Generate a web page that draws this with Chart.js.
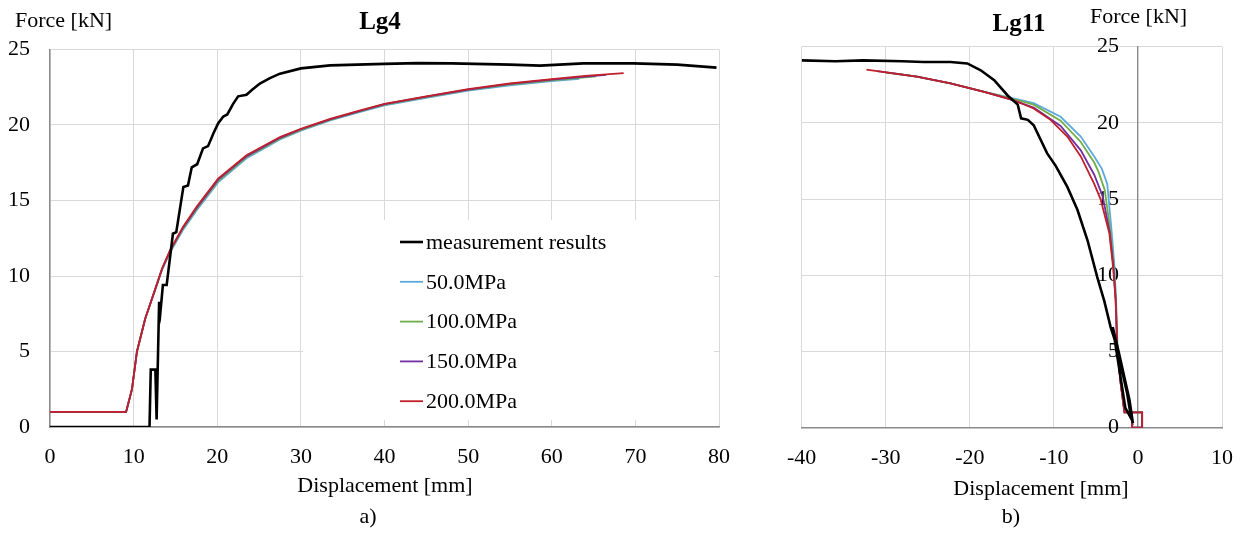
<!DOCTYPE html>
<html>
<head>
<meta charset="utf-8">
<script src="https://cdn.jsdelivr.net/npm/chart.js@4.4.1/dist/chart.umd.min.js"></script>
<style>
  html, body { margin: 0; padding: 0; background: #fff; }
  #wrap { position: relative; width: 1244px; height: 533px; overflow: hidden; }
  #left { position: absolute; left: 0; top: 0; width: 770px; height: 533px; }
  #right { position: absolute; left: 770px; top: 0; width: 474px; height: 533px; }
</style>
</head>
<body>
<div id="wrap">
  <div id="left"><canvas id="c1" width="770" height="533"></canvas></div>
  <div id="right"><canvas id="c2" width="474" height="533"></canvas></div>
</div>
<script>
// Series labels and colours
const seriesLabels = ['measurement results', '50.0MPa', '100.0MPa', '150.0MPa', '200.0MPa'];
const seriesColors = ['#000000', '#5fa8dc', '#70ad47', '#7030a0', '#c0202a'];

// Tick labels
const lg4XTicks = [0, 10, 20, 30, 40, 50, 60, 70, 80];
const lg11XTicks = [-40, -30, -20, -10, 0, 10];
const forceTicks = [0, 5, 10, 15, 20, 25];

// ---- Lg4 (a) ----
const lg4MeasX = [0, 11.9, 12.05, 12.6, 12.75, 13.05, 13.2, 13.5, 13.95, 14.7, 15.1, 15.95, 16.5, 16.95, 17.6, 18.3, 18.9, 19.55, 20.1, 20.7, 21.2, 21.9, 22.5, 23.5, 24.1, 25.1, 26.3, 27.5, 30, 33.5, 40, 44, 48, 55, 58.6, 63.8, 69.8, 75, 79.7];
const lg4MeasY = [0, 0, 3.8, 3.8, 0.5, 8.3, 7.6, 9.4, 9.4, 12.8, 12.9, 15.9, 16.0, 17.2, 17.4, 18.45, 18.6, 19.45, 20.1, 20.55, 20.7, 21.4, 21.9, 22.0, 22.3, 22.75, 23.1, 23.4, 23.75, 23.95, 24.05, 24.1, 24.08, 24.0, 23.93, 24.08, 24.08, 24.0, 23.8];

const lg4X50 = [0, 9.1, 9.8, 10.4, 11.4, 12.56, 13.4, 14.35, 15.9, 17.55, 20.1, 23.5, 27.5, 30, 33.5, 37, 40, 45, 50, 55, 60, 63.3];
const lg4Y50 = [1.0, 1.0, 2.5, 5.0, 7.2, 9.05, 10.4, 11.55, 13.05, 14.35, 16.2, 17.8, 19.05, 19.62, 20.3, 20.85, 21.3, 21.8, 22.27, 22.63, 22.9, 23.05];

const lg4X100 = [0, 9.1, 9.8, 10.4, 11.4, 12.56, 13.4, 14.35, 15.9, 17.55, 20.1, 23.5, 27.5, 30, 33.5, 37, 40, 45, 50, 55, 60, 65.3];
const lg4Y100 = [1.0, 1.0, 2.5, 5.0, 7.2, 9.08, 10.45, 11.62, 13.15, 14.45, 16.3, 17.88, 19.1, 19.68, 20.34, 20.9, 21.35, 21.85, 22.32, 22.68, 22.96, 23.22];

const lg4X150 = [0, 9.1, 9.8, 10.4, 11.4, 12.56, 13.4, 14.35, 15.9, 17.55, 20.1, 23.5, 27.5, 30, 33.5, 37, 40, 45, 50, 55, 60, 66.5];
const lg4Y150 = [1.0, 1.0, 2.5, 5.0, 7.2, 9.09, 10.48, 11.66, 13.2, 14.52, 16.38, 17.94, 19.15, 19.72, 20.37, 20.92, 21.38, 21.88, 22.35, 22.72, 23.0, 23.32];

const lg4X200 = [0, 9.1, 9.8, 10.4, 11.4, 12.56, 13.4, 14.35, 15.9, 17.55, 20.1, 23.5, 27.5, 30, 33.5, 37, 40, 45, 50, 55, 60, 64, 68.6];
const lg4Y200 = [1.0, 1.0, 2.5, 5.0, 7.2, 9.1, 10.5, 11.7, 13.25, 14.6, 16.45, 18.0, 19.2, 19.75, 20.4, 20.95, 21.4, 21.9, 22.38, 22.75, 23.04, 23.25, 23.44];

// ---- Lg11 (b) ----
const lg11MeasX = [-0.6, -1.0, -2.3, -3.0, -1.5, -0.8, -1.3, -2.6, -3.25, -4.0, -4.85, -6.0, -7.2, -8.4, -9.8, -10.8, -12.4, -13.1, -13.9, -14.3, -15.5, -17.1, -18.7, -20.3, -22.3, -25.5, -28, -32.7, -36, -40];
const lg11MeasY = [0.3, 1.8, 5.0, 6.6, 1.3, 0.6, 2.3, 5.5, 6.6, 8.3, 9.9, 12.3, 14.3, 15.8, 17.2, 18.0, 19.85, 20.2, 20.3, 21.2, 21.8, 22.8, 23.45, 23.9, 24.0, 24.0, 24.05, 24.1, 24.05, 24.1];

const lg11X50 = [-0.7, -0.7, 0.5, 0.5, -1.6, -2.04, -2.42, -2.6, -2.82, -3.15, -3.65, -4.3, -5.2, -6.8, -9.2, -12.4, -15.6, -18.4, -22.3, -26.3, -29.0];
const lg11Y50 = [1.0, 0, 0, 1.0, 1.0, 2.9, 5.1, 8.4, 10.8, 13.0, 16.0, 17.0, 17.8, 19.1, 20.4, 21.3, 21.7, 22.05, 22.6, 23.03, 23.25];

const lg11X100 = [-0.7, -0.7, 0.5, 0.5, -1.6, -2.05, -2.44, -2.63, -2.88, -3.28, -3.95, -4.7, -5.2, -6.8, -9.2, -12.4, -15.4, -18.4, -22.3, -26.3, -30.0];
const lg11Y100 = [1.0, 0, 0, 1.0, 1.0, 2.9, 5.1, 8.4, 10.7, 12.9, 15.6, 16.8, 17.4, 18.75, 20.15, 21.2, 21.65, 22.05, 22.6, 23.03, 23.3];

const lg11X150 = [-0.7, -0.7, 0.5, 0.5, -1.6, -2.05, -2.45, -2.65, -2.92, -3.35, -4.2, -5.2, -6.8, -9.2, -12.4, -15.2, -18.4, -22.3, -26.3, -31.0];
const lg11Y150 = [1.0, 0, 0, 1.0, 1.0, 2.9, 5.1, 8.4, 10.6, 12.8, 15.2, 16.6, 18.2, 19.8, 21.0, 21.55, 22.05, 22.6, 23.03, 23.4];

const lg11X200 = [-0.7, -0.7, 0.5, 0.5, -1.6, -2.06, -2.46, -2.66, -2.95, -3.4, -4.45, -5.2, -6.8, -8.4, -10.4, -12.4, -14.8, -18.4, -22.3, -26.3, -32.3];
const lg11Y200 = [1.0, 0, 0, 1.0, 1.0, 2.9, 5.1, 8.4, 10.5, 12.75, 15.0, 16.0, 17.8, 19.1, 20.2, 20.95, 21.5, 22.05, 22.6, 23.03, 23.5];

const FONT = "'Liberation Serif', 'Times New Roman', serif";
Chart.defaults.font.family = FONT;
Chart.defaults.font.size = 22;
Chart.defaults.color = '#000';

function toPoints(xs, ys) {
    return xs.map((x, i) => ({ x: x, y: ys[i] }));
}

function makeDatasets(series) {
    // draw order: black on top, then red, purple, green, blue
    const orders = [0, 4, 3, 2, 1];
    return series.map((s, i) => ({
        label: seriesLabels[i],
        data: toPoints(s[0], s[1]),
        showLine: true,
        borderColor: seriesColors[i],
        borderWidth: i === 0 ? 2.6 : 1.8,
        pointRadius: 0,
        tension: 0,
        fill: false,
        order: orders[i]
    }));
}

// Text (titles, axis names, sub-caption) drawn on the canvas
const textPlugin = {
    id: 'freeTexts',
    beforeDatasetsDraw(chart, args, opts) {
        // force tick labels beside an axis that crosses at x = 0
        if (!opts.crossLabels) return;
        const ctx = chart.ctx;
        const xs = chart.scales.x, ys = chart.scales.y;
        const ax = xs.getPixelForValue(0);
        ctx.save();
        ctx.fillStyle = '#000';
        ctx.font = '22px ' + FONT;
        ctx.textAlign = 'right';
        ctx.textBaseline = 'middle';
        forceTicks.forEach(v => {
            ctx.fillText(String(v), ax - opts.crossLabels, ys.getPixelForValue(v));
        });
        ctx.restore();
    },
    afterDraw(chart, args, opts) {
        const ctx = chart.ctx;
        ctx.save();
        ctx.fillStyle = '#000';
        ctx.textBaseline = 'alphabetic';
        (opts.items || []).forEach(t => {
            ctx.font = (t.bold ? 'bold ' : '') + t.size + 'px ' + FONT;
            ctx.textAlign = t.align;
            ctx.fillText(t.text, t.x, t.y);
        });
        ctx.restore();
    }
};

// Legend inside the plot with a white box
const boxLegendPlugin = {
    id: 'boxLegend',
    beforeDatasetsDraw(chart, args, opts) {
        if (!opts.display) return;
        const ctx = chart.ctx;
        ctx.save();
        ctx.fillStyle = '#fff';
        ctx.fillRect(opts.left, opts.top, opts.width, opts.height);
        ctx.font = '22px ' + FONT;
        ctx.textAlign = 'left';
        ctx.textBaseline = 'middle';
        chart.data.datasets.forEach((ds, i) => {
            const y = opts.firstRow + i * opts.rowGap;
            ctx.strokeStyle = ds.borderColor;
            ctx.lineWidth = i === 0 ? 2.6 : 1.8;
            ctx.beginPath();
            ctx.moveTo(opts.swatchX, y);
            ctx.lineTo(opts.swatchX + opts.swatchW, y);
            ctx.stroke();
            ctx.fillStyle = '#000';
            ctx.fillText(ds.label, opts.swatchX + opts.swatchW + 3, y + 1);
        });
        ctx.restore();
    }
};

function baseOptions(xTicks, padding, xHeight) {
    return {
        responsive: false,
        animation: false,
        events: [],
        layout: { padding: padding },
        plugins: {
            legend: { display: false },
            tooltip: { enabled: false },
            title: { display: false }
        },
        scales: {
            x: {
                type: 'linear',
                min: xTicks[0],
                max: xTicks[xTicks.length - 1],
                afterBuildTicks: s => { s.ticks = xTicks.map(v => ({ value: v })); },
                afterFit: s => {
                    s.height = xHeight;
                    // let the layout padding alone decide the plot edges
                    s.paddingLeft = 0;
                    s.paddingRight = 0;
                },
                ticks: { padding: 17, maxRotation: 0, autoSkip: false },
                grid: { color: '#d9d9d9', lineWidth: 1, drawTicks: false },
                border: { color: '#8a8a8a', width: 1.6 }
            },
            y: {
                type: 'linear',
                min: 0,
                max: 25,
                afterBuildTicks: s => { s.ticks = forceTicks.map(v => ({ value: v })); },
                ticks: { padding: 20 },
                grid: { color: '#d9d9d9', lineWidth: 1, drawTicks: false },
                border: { color: '#8a8a8a', width: 1.4 }
            }
        }
    };
}

// Chart a) Lg4
const opts1 = baseOptions(lg4XTicks, { left: 0, top: 49.5, right: 51, bottom: 0 }, 106);
opts1.scales.y.afterFit = s => { s.width = 50; };
opts1.plugins.freeTexts = {
    items: [
        { text: 'Force [kN]', x: 15, y: 27, size: 22, align: 'left' },
        { text: 'Lg4', x: 380, y: 29, size: 25, bold: true, align: 'center' },
        { text: 'Displacement [mm]', x: 385, y: 492, size: 22, align: 'center' },
        { text: 'a)', x: 368, y: 523, size: 22, align: 'center' }
    ]
};
opts1.plugins.boxLegend = {
    display: true, left: 303, top: 220, width: 411, height: 200,
    firstRow: 242, rowGap: 39.8, swatchX: 400, swatchW: 23
};

new Chart(document.getElementById('c1'), {
    type: 'scatter',
    data: {
        datasets: makeDatasets([
            [lg4MeasX, lg4MeasY], [lg4X50, lg4Y50], [lg4X100, lg4Y100],
            [lg4X150, lg4Y150], [lg4X200, lg4Y200]
        ])
    },
    options: opts1,
    plugins: [textPlugin, boxLegendPlugin]
});

// Chart b) Lg11 - force axis crosses at displacement 0
const opts2 = baseOptions(lg11XTicks, { left: 31.7, top: 46.7, right: 22, bottom: 0 }, 105.3);
opts2.scales.y.position = { x: 0 };
opts2.scales.y.ticks = { display: false };
opts2.plugins.freeTexts = {
    crossLabels: 19,
    items: [
        { text: 'Force [kN]', x: 320, y: 23, size: 22, align: 'left' },
        { text: 'Lg11', x: 249, y: 31, size: 25, bold: true, align: 'center' },
        { text: 'Displacement [mm]', x: 271, y: 495, size: 22, align: 'center' },
        { text: 'b)', x: 241, y: 523, size: 22, align: 'center' }
    ]
};
opts2.plugins.boxLegend = { display: false };

new Chart(document.getElementById('c2'), {
    type: 'scatter',
    data: {
        datasets: makeDatasets([
            [lg11MeasX, lg11MeasY], [lg11X50, lg11Y50], [lg11X100, lg11Y100],
            [lg11X150, lg11Y150], [lg11X200, lg11Y200]
        ])
    },
    options: opts2,
    plugins: [textPlugin, boxLegendPlugin]
});
</script>
</body>
</html>
